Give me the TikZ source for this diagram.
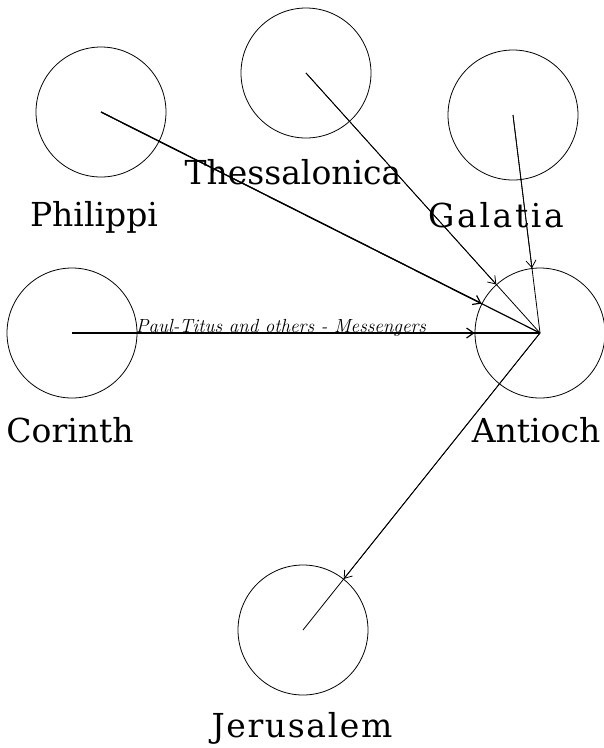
\documentclass[tikz,border=0pt]{standalone}
\usepackage{fontspec}
\usepackage{tikz}
\usetikzlibrary{arrows.meta}
\newfontfamily\townfont{DejaVu Serif}

\begin{document}
\begin{tikzpicture}[x=1pt, y=-1pt, >={Straight Barb[length=7pt, width=10pt]},
    town/.style={circle, draw, minimum size=130pt, inner sep=0pt, line width=0.8pt},
    place/.style={anchor=base, inner sep=0pt, font=\townfont\fontsize{33}{38}\selectfont},
    route/.style={line width=0.8pt},
    mainroute/.style={line width=1.2pt}]
  \useasboundingbox (0,0) rectangle (604,748);
  \node[town] (philippi) at (101,112) {};
  \node[town] (thessalonica) at (306,73) {};
  \node[town] (galatia) at (513,115) {};
  \node[town] (corinth) at (72,333) {};
  \node[town] (antioch) at (540,333) {};
  \node[town] (jerusalem) at (303,630) {};
  \node[place] (philippiname) at (94,226) {Philippi};
  \node[place] (thessalonicaname) at (293,184) {Thessalonica};
  \node[place] (galatianame) at (496,227) {\addfontfeature{LetterSpace=8}Galatia};
  \node[place] (corinthname) at (70,442) {Corinth};
  \node[place] (antiochname) at (536,442) {Antioch};
  \node[place] (jerusalemname) at (302,737) {\addfontfeature{LetterSpace=5}Jerusalem};
  \draw[mainroute] (philippi.center) -- (antioch.center);
  \draw[mainroute, ->] (philippi.center) -- (antioch);
  \draw[route] (thessalonica.center) -- (antioch.center);
  \draw[route, ->] (thessalonica.center) -- (antioch);
  \draw[route] (galatia.center) -- (antioch.center);
  \draw[route, ->] (galatia.center) -- (antioch);
  \draw[mainroute] (corinth.center) -- (antioch.center);
  \draw[mainroute, ->] (corinth.center) -- (antioch);
  \draw[route] (antioch.center) -- (jerusalem.center);
  \draw[route, ->] (antioch.center) -- (jerusalem);
  \node[anchor=base, inner sep=0pt, font=\fontsize{19}{22}\selectfont\itshape] (messengers) at (281,332) {Paul-Titus and others - Messengers};
\end{tikzpicture}
\end{document}
